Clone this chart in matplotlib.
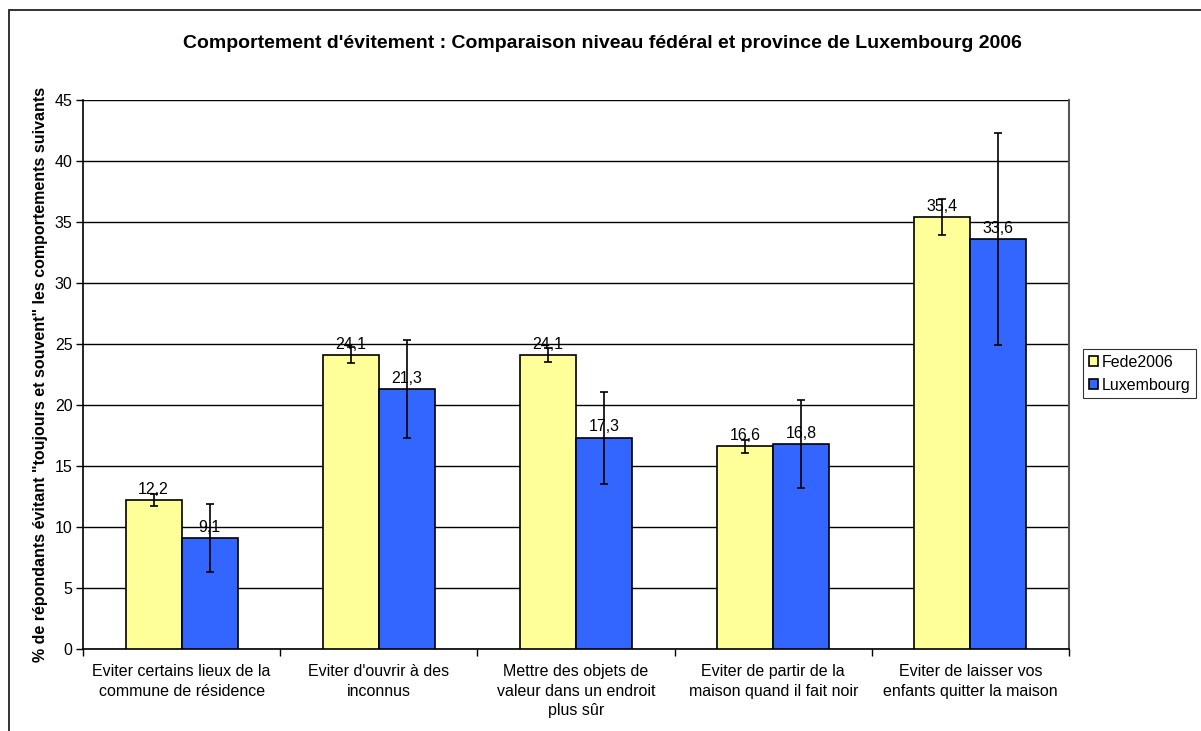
import matplotlib
matplotlib.use("Agg")
import matplotlib.pyplot as plt
import numpy as np
from matplotlib.patches import Rectangle

categories = [
    "Eviter certains lieux de la\ncommune de résidence",
    "Eviter d'ouvrir à des\ninconnus",
    "Mettre des objets de\nvaleur dans un endroit\nplus sûr",
    "Eviter de partir de la\nmaison quand il fait noir",
    "Eviter de laisser vos\nenfants quitter la maison",
]
fede = [12.2, 24.1, 24.1, 16.6, 35.4]
lux = [9.1, 21.3, 17.3, 16.8, 33.6]
fede_err = [0.5, 0.65, 0.6, 0.55, 1.45]
lux_err = [2.8, 4.0, 3.8, 3.6, 8.7]
series_names = ["Fede2006", "Luxembourg"]
title = "Comportement d'évitement : Comparaison niveau fédéral et province de Luxembourg 2006"
ylabel = '% de répondants évitant "toujours et souvent" les comportements suivants'

plt.rcParams['font.family'] = ['Liberation Sans', 'DejaVu Sans']
FS = 11.5

W, H = 1201, 731
fig = plt.figure(figsize=(W / 100, H / 100), dpi=100)
fig.patch.set_facecolor("white")

# outer chart frame
fig.add_artist(Rectangle((9 / W, -0.05), 1.2, 1 - 10 / H + 0.05, transform=fig.transFigure,
                         fill=False, edgecolor="#222222", linewidth=1.3))

left, right, top, bottom = 83, 1069, 100, 649
ax = fig.add_axes([left / W, 1 - bottom / H, (right - left) / W, (bottom - top) / H])

x = np.arange(len(categories))
w = 0.284
colors = ["#FFFF99", "#3366FF"]
ekw = dict(ecolor="black", elinewidth=1.2, capsize=3.2, capthick=1.2)
b1 = ax.bar(x - w / 2, fede, w, color=colors[0], edgecolor="black", linewidth=1.2,
            yerr=fede_err, error_kw=ekw, label=series_names[0], zorder=3)
b2 = ax.bar(x + w / 2, lux, w, color=colors[1], edgecolor="black", linewidth=1.2,
            yerr=lux_err, error_kw=ekw, label=series_names[1], zorder=3)

for xs, vals in [(x - w / 2, fede), (x + w / 2, lux)]:
    for xi, v in zip(xs, vals):
        ax.annotate(f"{v:.1f}".replace(".", ","), (xi, v), xytext=(0, 2.5),
                    textcoords="offset points", ha="center", va="bottom",
                    fontsize=FS, zorder=5)

ax.set_xlim(-0.5, len(categories) - 0.5)
ax.set_ylim(0, 45)
ax.set_yticks(np.arange(0, 46, 5))
ax.yaxis.grid(True, color="black", linewidth=1.0, zorder=0)
ax.set_axisbelow(True)

ax.set_xticks(np.arange(len(categories) + 1) - 0.5)
ax.set_xticklabels([])
ax.set_xticks(x, minor=True)
ax.set_xticklabels(categories, minor=True, fontsize=FS, linespacing=1.38, va="top")
ax.tick_params(axis="x", which="minor", length=0, pad=11)
ax.tick_params(axis="x", which="major", length=5, width=1, direction="out")
ax.tick_params(axis="y", length=5, width=1, direction="out", labelsize=FS, pad=2.5)

for s in ["left", "bottom"]:
    ax.spines[s].set_color("black")
    ax.spines[s].set_linewidth(1.2)
ax.spines["top"].set_visible(False)
ax.spines["right"].set_color("#555555")
ax.spines["right"].set_linewidth(1.5)

ax.set_ylabel(ylabel, fontsize=FS, fontweight="bold", labelpad=10)
ax.yaxis.set_label_coords(-(83 - 41) / (right - left), 0.5)
ax.yaxis.label.set_va("center")
fig.text(602 / W, 1 - 44 / H, title, ha="center", va="center", fontsize=14, fontweight="bold")

leg = fig.legend(handles=[b1, b2], labels=series_names, loc="upper left",
                 bbox_to_anchor=(1083 / W, 1 - 349 / H), fontsize=FS,
                 frameon=True, fancybox=False, edgecolor="black", handlelength=0.6,
                 handleheight=0.6, handletextpad=0.2, borderpad=0.35, labelspacing=0.5,
                 borderaxespad=0)
leg.get_frame().set_linewidth(0.8)

fig.savefig("out.png", dpi=100)
